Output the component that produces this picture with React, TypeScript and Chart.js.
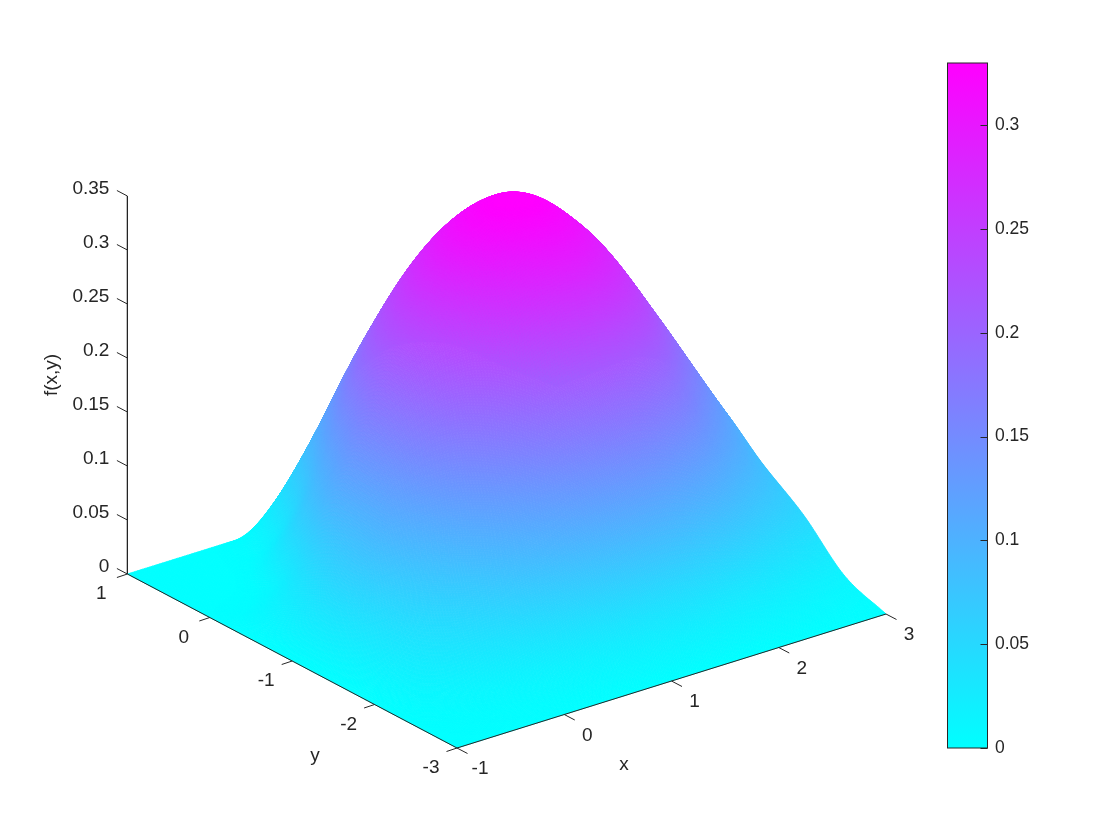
import React, { useEffect, useRef } from "react";
import { Chart, registerables } from "chart.js";

Chart.register(...registerables);

const xGrid = [-1, -0.5, 0, 0.5, 1, 1.5, 2, 2.5, 3];
const yGrid = [-3, -2.5, -2, -1.5, -1, -0.5, 0, 0.5, 1];

const fAtYm30 = [0, 0, 0, 0, 0, 0, 0, 0, 0];
const fAtYm25 = [0, 0.008, 0.016, 0.026, 0.036, 0.039, 0.033, 0.024, 0.015];
const fAtYm20 = [0, 0.0276, 0.0546, 0.0887, 0.12, 0.1355, 0.117, 0.0794, 0.0514];
const fAtYm15 = [0, 0.045, 0.093, 0.15, 0.2, 0.222, 0.202, 0.139, 0.079];
const fAtYm10 = [0, 0.0557, 0.1257, 0.2097, 0.274, 0.2987, 0.2714, 0.1968, 0.1113];
const fAtYm05 = [0, 0.0393, 0.1338, 0.234, 0.3117, 0.332, 0.2958, 0.2195, 0.1276];
const fAtY00 = [0, 0.008, 0.0905, 0.2032, 0.279, 0.304, 0.2652, 0.193, 0.1172];
const fAtY05 = [0, 0, 0.0248, 0.1269, 0.2033, 0.2262, 0.1965, 0.1408, 0.0842];
const fAtY10 = [0, 0, 0, 0.0382, 0.11, 0.1336, 0.1201, 0.0843, 0.0495];
const fRows = [fAtYm30, fAtYm25, fAtYm20, fAtYm15, fAtYm10, fAtYm05, fAtY00, fAtY05, fAtY10];

const zTicks = [0, 0.05, 0.1, 0.15, 0.2, 0.25, 0.3, 0.35];
const zTickLabels = ["0", "0.05", "0.1", "0.15", "0.2", "0.25", "0.3", "0.35"];
const xTicks = [-1, 0, 1, 2, 3];
const xTickLabels = ["-1", "0", "1", "2", "3"];
const yTicks = [1, 0, -1, -2, -3];
const yTickLabels = ["1", "0", "-1", "-2", "-3"];
const colorbarTicks = [0, 0.05, 0.1, 0.15, 0.2, 0.25, 0.3];
const colorbarLabels = ["0", "0.05", "0.1", "0.15", "0.2", "0.25", "0.3"];
const colorMax = 0.33;

const INK = "#262626";
const FONT = "Liberation Sans, Arial, sans-serif";
const FONT_SIZE = 19;

const project = (x: number, y: number, z: number) => ({
  x: 457 + 107.25 * (x + 1) - 82.4 * (y + 3),
  y: 748 - 33.5 * (x + 1) - 43.5 * (y + 3) - 1080 * z,
});

const coolColor = (v: number) => {
  const t = Math.max(0, Math.min(1, v / colorMax));
  return `rgb(${Math.round(255 * t)},${Math.round(255 * (1 - t))},255)`;
};

// Limited cubic between table nodes, used only to shade between them.
const tangent = (vals: number[], k: number) => {
  const last = vals.length - 1;
  const a = k > 0 ? vals[k] - vals[k - 1] : vals[k + 1] - vals[k];
  const b = k < last ? vals[k + 1] - vals[k] : vals[k] - vals[k - 1];
  if (a * b <= 0) return 0;
  const limit = 3 * Math.min(Math.abs(a), Math.abs(b));
  const m = (a + b) / 2;
  return Math.sign(m) * Math.min(Math.abs(m), limit);
};
const hermite = (vals: number[], pos: number) => {
  const k = Math.min(vals.length - 2, Math.floor(pos));
  const t = pos - k;
  const t2 = t * t;
  const t3 = t2 * t;
  return (
    (2 * t3 - 3 * t2 + 1) * vals[k] +
    (t3 - 2 * t2 + t) * tangent(vals, k) +
    (-2 * t3 + 3 * t2) * vals[k + 1] +
    (t3 - t2) * tangent(vals, k + 1)
  );
};
const sampleSurface = (u: number, v: number) => Math.max(0, hermite(fRows.map((r) => hermite(r, u)), v));

const surfacePlugin = {
  id: "surface",
  beforeDatasetsDraw(chart: any) {
    const { ctx, scales } = chart;
    const px = (p: { x: number; y: number }) => [scales.x.getPixelForValue(p.x), scales.y.getPixelForValue(p.y)];
    const sub = 32;
    const N = (xGrid.length - 1) * sub;
    const M = (yGrid.length - 1) * sub;
    const xAt = (i: number) => xGrid[0] + ((xGrid[xGrid.length - 1] - xGrid[0]) * i) / N;
    const yAt = (j: number) => yGrid[0] + ((yGrid[yGrid.length - 1] - yGrid[0]) * j) / M;
    const zAt: number[][] = [];
    for (let j = 0; j <= M; j++) {
      const r: number[] = [];
      for (let i = 0; i <= N; i++) r.push(sampleSurface(i / sub, j / sub));
      zAt.push(r);
    }
    ctx.save();
    ctx.lineWidth = 0.8;
    for (let i = N - 1; i >= 0; i--) {
      for (let j = M - 1; j >= 0; j--) {
        const a = px(project(xAt(i), yAt(j), zAt[j][i]));
        const b = px(project(xAt(i + 1), yAt(j), zAt[j][i + 1]));
        const c = px(project(xAt(i + 1), yAt(j + 1), zAt[j + 1][i + 1]));
        const d = px(project(xAt(i), yAt(j + 1), zAt[j + 1][i]));
        const col = coolColor((zAt[j][i] + zAt[j][i + 1] + zAt[j + 1][i + 1] + zAt[j + 1][i]) / 4);
        ctx.fillStyle = col;
        ctx.strokeStyle = col;
        ctx.beginPath();
        ctx.moveTo(a[0], a[1]);
        ctx.lineTo(b[0], b[1]);
        ctx.lineTo(c[0], c[1]);
        ctx.lineTo(d[0], d[1]);
        ctx.closePath();
        ctx.fill();
        ctx.stroke();
      }
    }
    ctx.restore();
  },
  afterDraw(chart: any) {
    const { ctx, scales } = chart;
    ctx.save();
    ctx.fillStyle = INK;
    ctx.font = `${FONT_SIZE}px ${FONT}`;
    ctx.textBaseline = "middle";
    const put = (p: { x: number; y: number }, dx: number, dy: number, s: string, align: CanvasTextAlign) => {
      ctx.textAlign = align;
      ctx.fillText(s, scales.x.getPixelForValue(p.x) + dx, scales.y.getPixelForValue(p.y) + dy);
    };
    zTicks.forEach((z, k) => put(project(-1, 1, z), -18, -7, zTickLabels[k], "right"));
    xTicks.forEach((x, k) => put(project(x, -3, 0), 23, 21, xTickLabels[k], "center"));
    yTicks.forEach((y, k) => put(project(-1, y, 0), -26, 20, yTickLabels[k], "center"));
    ctx.textAlign = "center";
    ctx.fillText("x", 624, 765);
    ctx.fillText("y", 315, 756);
    ctx.translate(52, 375);
    ctx.rotate(-Math.PI / 2);
    ctx.fillText("f(x,y)", 0, 0);
    ctx.restore();
  },
};

const colorbarPlugin = {
  id: "colorbarFrame",
  afterDraw(chart: any) {
    const { ctx, chartArea, scales } = chart;
    ctx.save();
    ctx.strokeStyle = INK;
    ctx.lineWidth = 1;
    ctx.strokeRect(chartArea.left, chartArea.top, chartArea.right - chartArea.left, chartArea.bottom - chartArea.top);
    ctx.beginPath();
    colorbarTicks.forEach((v) => {
      const y = Math.round(scales.y.getPixelForValue(v)) + 0.5;
      ctx.moveTo(chartArea.right - 7, y);
      ctx.lineTo(chartArea.right, y);
    });
    ctx.stroke();
    ctx.restore();
  },
};

export default function App() {
  const mainRef = useRef<HTMLCanvasElement>(null);
  const barRef = useRef<HTMLCanvasElement>(null);

  useEffect(() => {
    const gap = { x: NaN, y: NaN };
    const axisLine = [project(-1, 1, 0.35), project(-1, 1, 0), project(-1, -3, 0), project(3, -3, 0)];
    const tickMarks: { x: number; y: number }[] = [];
    zTicks.forEach((z) => {
      const p = project(-1, 1, z);
      tickMarks.push(p, { x: p.x - 10.5, y: p.y - 5.5 }, gap);
    });
    xTicks.forEach((x) => {
      const p = project(x, -3, 0);
      tickMarks.push(p, { x: p.x + 10.5, y: p.y + 5.5 }, gap);
    });
    yTicks.forEach((y) => {
      const p = project(-1, y, 0);
      tickMarks.push(p, { x: p.x - 10.5, y: p.y + 3.5 }, gap);
    });
    const nodes: { x: number; y: number }[] = [];
    yGrid.forEach((y, j) => xGrid.forEach((x, i) => nodes.push(project(x, y, fRows[j][i]))));

    const main = new Chart(mainRef.current as HTMLCanvasElement, {
      type: "scatter",
      data: {
        datasets: [
          { label: "f(x,y)", data: nodes, pointRadius: 0, showLine: false },
          { label: "axes", data: axisLine, showLine: true, borderColor: INK, borderWidth: 1, pointRadius: 0, fill: false },
          { label: "ticks", data: tickMarks, showLine: true, spanGaps: false, borderColor: INK, borderWidth: 1, pointRadius: 0, fill: false },
        ],
      },
      options: {
        animation: false,
        responsive: false,
        layout: { padding: 0 },
        plugins: { legend: { display: false }, tooltip: { enabled: false } },
        scales: {
          x: { type: "linear", min: 0, max: 1120, display: false },
          y: { type: "linear", min: 0, max: 840, reverse: true, display: false },
        },
      },
      plugins: [surfacePlugin],
    } as any);

    const bar = new Chart(barRef.current as HTMLCanvasElement, {
      type: "bar",
      data: {
        labels: ["f"],
        datasets: [
          {
            data: [[0, colorMax]],
            barPercentage: 1,
            categoryPercentage: 1,
            backgroundColor: (c: any) => {
              const area = c.chart.chartArea;
              if (!area) return "#00ffff";
              const g = c.chart.ctx.createLinearGradient(0, area.bottom, 0, area.top);
              g.addColorStop(0, coolColor(0));
              g.addColorStop(1, coolColor(colorMax));
              return g;
            },
          },
        ],
      },
      options: {
        animation: false,
        responsive: false,
        layout: { padding: { left: 7.5, top: 0, bottom: 0, right: 0 } },
        plugins: { legend: { display: false }, tooltip: { enabled: false } },
        scales: {
          x: { display: false },
          y: {
            position: "right",
            min: 0,
            max: colorMax,
            grid: { display: false, drawTicks: false },
            border: { display: false },
            afterBuildTicks: (s: any) => {
              s.ticks = colorbarTicks.map((value) => ({ value }));
            },
            afterFit: (s: any) => {
              s.width = 132.5;
            },
            ticks: {
              padding: 7.5,
              autoSkip: false,
              color: INK,
              font: { family: FONT, size: 17.5 },
              callback: (v: any) => colorbarLabels[colorbarTicks.indexOf(v)],
            },
          },
        },
      },
      plugins: [colorbarPlugin],
    } as any);

    return () => {
      main.destroy();
      bar.destroy();
    };
  }, []);

  return (
    <div style={{ position: "absolute", left: 0, top: 0, width: 1120, height: 840, background: "#fff", overflow: "hidden" }}>
      <canvas ref={mainRef} width={1120} height={840} style={{ position: "absolute", left: 0, top: 0 }} />
      <canvas ref={barRef} width={180} height={721} style={{ position: "absolute", left: 940, top: 45 }} />
    </div>
  );
}
